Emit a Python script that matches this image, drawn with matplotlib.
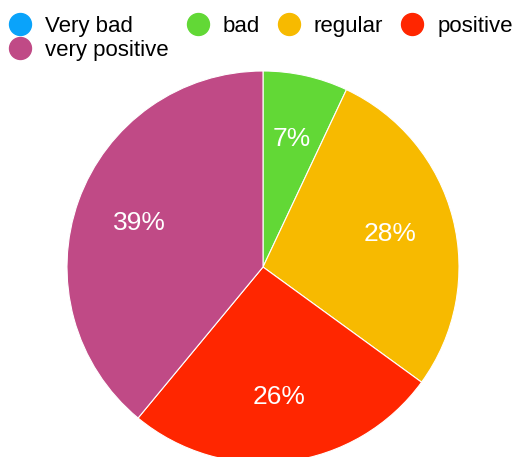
import matplotlib
matplotlib.use("Agg")
import matplotlib.pyplot as plt
from matplotlib.lines import Line2D

categories = ["Very bad", "bad", "regular", "positive", "very positive"]
values = [0, 7, 28, 26, 39]
colors = ["#0AA3FA", "#62D836", "#F7BA00", "#FF2600", "#C04A86"]

plt.rcParams["font.family"] = ["Liberation Sans", "DejaVu Sans"]

W, H, DPI = 520, 457, 100
fig = plt.figure(figsize=(W / DPI, H / DPI), dpi=DPI)

# pie axes: centre (263, 267) px from top-left, radius 196 px
cx, cy, r = 263, 267, 196
ax = fig.add_axes([(cx - r) / W, (H - cy - r) / H, 2 * r / W, 2 * r / H])


def pct(p):
    return "" if p < 0.5 else "%d%%" % round(p)


wedges, texts, autotexts = ax.pie(
    values,
    colors=colors,
    startangle=90,
    counterclock=False,
    autopct=pct,
    pctdistance=0.67,
    radius=1.0,
    wedgeprops=dict(edgecolor="white", linewidth=0.8),
    textprops=dict(color="white", fontsize=19),
)
ax.set_xlim(-1, 1)
ax.set_ylim(-1, 1)
ax.set_aspect("equal")
ax.axis("off")
for w in wedges:
    w.set_clip_on(False)

# legend laid out row-wise: reorder for column-major filling
order = [0, 4, 1, 2, 3]
handles = [
    Line2D([], [], marker="o", linestyle="none", markersize=15.8,
           markerfacecolor=colors[i], markeredgecolor=colors[i])
    for i in order
]
labels = [categories[i] for i in order]
fig.legend(
    handles, labels,
    ncol=4,
    loc="upper left",
    bbox_to_anchor=(8.9 / W, 1 - 16 / H),
    bbox_transform=fig.transFigure,
    frameon=False,
    fontsize=16,
    handlelength=1.0,
    handletextpad=0.63,
    columnspacing=0.8,
    labelspacing=0.12,
    borderpad=0.0,
    borderaxespad=0.0,
)

fig.savefig("out.png", dpi=DPI)
